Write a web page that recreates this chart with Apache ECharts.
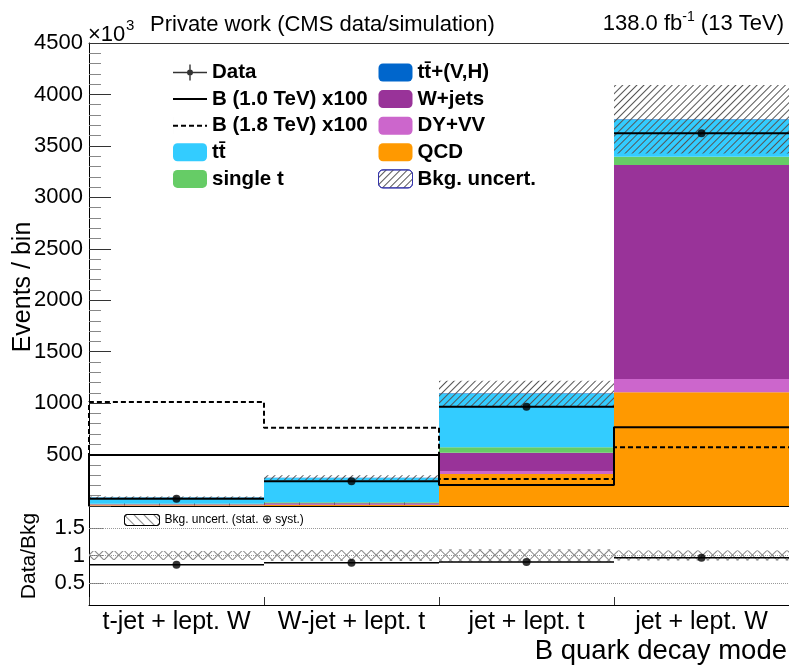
<!DOCTYPE html>
<html><head><meta charset="utf-8">
<script src="https://cdn.jsdelivr.net/npm/echarts@6/dist/echarts.min.js"></script>
<style>html,body{margin:0;padding:0;background:#fff}#c{width:789px;height:665px}</style>
</head><body><div id="c"></div>
<script>
// ---- data (upper panel in units of 10^3 events) ----
const categories = ['t-jet + lept. W', 'W-jet + lept. t', 'jet + lept. t', 'jet + lept. W'];
const qcd     = [8, 10, 311, 1105];
const dyvv    = [3, 5, 29, 129];
const wjets   = [6, 12, 178, 2080];
const singleT = [4, 10, 52, 81];
const ttbar   = [62, 235, 520, 358];
const ttvh    = [2, 3, 5, 5];
const dataObs = [70, 240, 965, 3622];
const bkgUnc  = [8, 25, 123, 333];
const sigB10  = [495, 495, 204, 765];
const sigB18  = [1012, 761, 262, 570];
const ratio    = [0.83, 0.87, 0.88, 0.96];
const ratioUnc = [0.08, 0.10, 0.115, 0.09];
const ratioTicks = [0.5, 1, 1.5];

const FF = '"Liberation Sans", Arial, Helvetica, sans-serif';
const total = qcd.map((_, i) => qcd[i] + dyvv[i] + wjets[i] + singleT[i] + ttbar[i] + ttvh[i]);
const stepData = arr => [[0, 0]].concat(arr.map((v, i) => [i, v]), [[arr.length, arr[arr.length - 1]]]);

function hbar(width) {
  return function (params, api) {
    const i = api.value(0), v = api.value(1);
    const p0 = api.coord([i, v]), p1 = api.coord([i + 1, v]);
    return { type: 'line', shape: { x1: p0[0], y1: p0[1], x2: p1[0], y2: p1[1] },
             style: { stroke: '#000', lineWidth: width } };
  };
}
const stackBar = (name, arr, color) => ({
  name, type: 'bar', stack: 'bkg', xAxisIndex: 0, yAxisIndex: 0, data: arr,
  barCategoryGap: '0%', barGap: '-100%', itemStyle: { color }, z: 2, silent: true
});
const hatchUp = { symbol: 'rect', symbolSize: 1, dashArrayX: [1, 0], dashArrayY: [1, 3.3],
                  rotation: -Math.PI / 4, color: '#555' };
const solidIcon = 'path://M0,8L34,8L34,10L0,10Z';
const dashIcon = 'path://M0,8L5,8L5,10L0,10Z M8,8L13,8L13,10L8,10Z M16,8L21,8L21,10L16,10Z M24,8L29,8L29,10L24,10Z M32,8L34,8L34,10L32,10Z M0,0L0.01,0L0.01,18L0,18Z';

const option = {
  backgroundColor: '#fff',
  animation: false,
  textStyle: { fontFamily: FF },
  grid: [
    { left: 89, top: 43, width: 703, height: 463 },
    { left: 89, top: 506, width: 703, height: 99 }
  ],
  xAxis: [
    { gridIndex: 0, type: 'category', data: categories, show: false },
    { gridIndex: 0, type: 'value', min: 0, max: 4, interval: 1, position: 'bottom',
      axisLine: { show: true, lineStyle: { color: '#000', width: 1 } },
      axisTick: { show: true, inside: true, length: 13, lineStyle: { color: '#333' } },
      minorTick: { show: true, splitNumber: 5, length: 7, lineStyle: { color: '#333' } },
      axisLabel: { show: false }, splitLine: { show: false } },
    { gridIndex: 0, type: 'value', min: 0, max: 4, position: 'top',
      axisLine: { show: true, onZero: false, lineStyle: { color: '#333' } },
      axisTick: { show: false }, axisLabel: { show: false }, splitLine: { show: false } },
    { gridIndex: 1, type: 'category', data: categories,
      axisLine: { show: false }, axisTick: { show: false },
      axisLabel: { show: true, interval: 0, fontSize: 25, color: '#000', margin: 5, fontFamily: FF } },
    { gridIndex: 1, type: 'value', min: 0, max: 4, interval: 1, position: 'bottom',
      axisLine: { show: true, onZero: false, lineStyle: { color: '#000' } },
      axisTick: { show: true, inside: true, length: 8, lineStyle: { color: '#333' } },
      axisLabel: { show: false }, splitLine: { show: false } }
  ],
  yAxis: [
    { gridIndex: 0, type: 'value', min: 0, max: 4500, interval: 500,
      axisLine: { show: true, lineStyle: { color: '#000' } },
      axisTick: { show: true, inside: true, length: 22, lineStyle: { color: '#333' } },
      minorTick: { show: true, splitNumber: 5, length: 12, lineStyle: { color: '#888' } },
      axisLabel: { showMinLabel: false, fontSize: 22, color: '#000', margin: 6, fontFamily: FF,
                   formatter: v => String(v) },
      splitLine: { show: false } },
    { gridIndex: 1, type: 'value', min: 0.1, max: 1.9,
      axisLine: { show: true, lineStyle: { color: '#000' } },
      axisTick: { show: true, inside: true, length: 15, customValues: ratioTicks, lineStyle: { color: '#777' } },
      axisLabel: { customValues: ratioTicks, fontSize: 22, color: '#000', margin: 4, fontFamily: FF,
                   formatter: v => String(v) },
      splitLine: { show: false } }
  ],
  legend: [
    { left: 173, top: 62, orient: 'vertical', itemWidth: 34, itemHeight: 18, itemGap: 5.6, padding: 0,
      selectedMode: false, textStyle: { fontSize: 20.5, fontWeight: 'bold', color: '#000', fontFamily: FF },
      data: [
        { name: 'Data', icon: 'path://M0,8.3L34,8.3L34,9.7L0,9.7Z M16.3,1L17.7,1L17.7,17L16.3,17Z M20,9A3,3 0 1 1 14,9A3,3 0 1 1 20,9Z', itemStyle: { color: '#000' } },
        { name: 'B (1.0 TeV) x100', icon: solidIcon, itemStyle: { color: '#000' } },
        { name: 'B (1.8 TeV) x100', icon: dashIcon, itemStyle: { color: '#000' } },
        'tt\u0304', 'single t'] },
    { left: 378, top: 62, orient: 'vertical', itemWidth: 34, itemHeight: 18, itemGap: 5.6, padding: 0,
      selectedMode: false, textStyle: { fontSize: 20.5, fontWeight: 'bold', color: '#000', fontFamily: FF },
      data: ['tt\u0304+(V,H)', 'W+jets', 'DY+VV', 'QCD',
        { name: 'Bkg. uncert.', itemStyle: { borderColor: '#3333aa', borderWidth: 1 } }] },
    { left: 124, top: 514, orient: 'horizontal', itemWidth: 35, itemHeight: 11, padding: 0,
      selectedMode: false, textStyle: { fontSize: 12, color: '#000', fontFamily: FF },
      data: [{ name: 'Bkg. uncert. (stat. \u2295 syst.)', itemStyle: { borderColor: '#000', borderWidth: 1 } }] }
  ],
  graphic: [
    { type: 'text', x: 88, y: 35, style: { text: '\u00d710', fontSize: 22, fill: '#000', fontFamily: FF, align: 'left', verticalAlign: 'middle' } },
    { type: 'text', x: 126, y: 26, style: { text: '3', fontSize: 15, fill: '#000', fontFamily: FF, align: 'left', verticalAlign: 'middle' } },
    { type: 'text', x: 150, y: 24.5, style: { text: 'Private work (CMS data/simulation)', fontSize: 22, fill: '#000', fontFamily: FF, align: 'left', verticalAlign: 'middle' } },
    { type: 'text', x: 784, y: 24, style: {
        text: '{a|138.0 fb}{s|-1}{a| (13 TeV)}', align: 'right', verticalAlign: 'middle',
        rich: { a: { fontSize: 22, lineHeight: 28, fill: '#000', fontFamily: FF },
                s: { fontSize: 14, verticalAlign: 'top', fill: '#000', fontFamily: FF } } } },
    { type: 'text', x: 23, y: 287, rotation: Math.PI / 2, style: { text: 'Events / bin', fontSize: 25, fill: '#000', fontFamily: FF, align: 'center', verticalAlign: 'middle' } },
    { type: 'text', x: 29, y: 556, rotation: Math.PI / 2, style: { text: 'Data/Bkg', fontSize: 21, fill: '#000', fontFamily: FF, align: 'center', verticalAlign: 'middle' } },
    { type: 'text', x: 787, y: 651, style: { text: 'B quark decay mode', fontSize: 27.5, fill: '#000', fontFamily: FF, align: 'right', verticalAlign: 'middle' } }
  ],
  series: [
    stackBar('QCD', qcd, '#ff9900'),
    stackBar('DY+VV', dyvv, '#cc66cc'),
    stackBar('W+jets', wjets, '#993399'),
    stackBar('single t', singleT, '#66cc66'),
    stackBar('tt\u0304', ttbar, '#33ccff'),
    stackBar('tt\u0304+(V,H)', ttvh, '#0066cc'),
    { name: 'uncBase', type: 'bar', stack: 'unc', xAxisIndex: 0, yAxisIndex: 0,
      data: total.map((t, i) => t - bkgUnc[i]), barCategoryGap: '0%', barGap: '-100%',
      itemStyle: { color: 'rgba(0,0,0,0)' }, z: 3, silent: true },
    { name: 'Bkg. uncert.', type: 'bar', stack: 'unc', xAxisIndex: 0, yAxisIndex: 0,
      data: bkgUnc.map(u => 2 * u), barCategoryGap: '0%', barGap: '-100%',
      itemStyle: { color: 'rgba(0,0,0,0)', decal: hatchUp }, z: 3, silent: true },
    { name: 'B (1.0 TeV) x100', type: 'line', step: 'end', xAxisIndex: 1, yAxisIndex: 0,
      data: stepData(sigB10), symbol: 'none', lineStyle: { color: '#000', width: 2 }, itemStyle: { color: '#000' }, z: 5, silent: true },
    { name: 'B (1.8 TeV) x100', type: 'line', step: 'end', xAxisIndex: 1, yAxisIndex: 0,
      data: stepData(sigB18), symbol: 'none', lineStyle: { color: '#000', width: 2, type: [5, 3] }, itemStyle: { color: '#000' }, z: 5, silent: true },
    { name: 'dataBars', type: 'custom', xAxisIndex: 1, yAxisIndex: 0, renderItem: hbar(2),
      data: dataObs.map((v, i) => [i, v]), z: 6, silent: true },
    { name: 'Data', type: 'scatter', xAxisIndex: 1, yAxisIndex: 0, symbol: 'circle', symbolSize: 8,
      data: dataObs.map((v, i) => [i + 0.5, v]), itemStyle: { color: '#000' }, z: 7, silent: true },
    // ratio panel
    { name: 'rBaseA', type: 'bar', stack: 'ra', xAxisIndex: 3, yAxisIndex: 1,
      data: ratio.map((_, i) => 1 - ratioUnc[i]), barCategoryGap: '0%', barGap: '-100%',
      itemStyle: { color: 'rgba(0,0,0,0)' }, silent: true, z: 3 },
    { name: 'Bkg. uncert. (stat. \u2295 syst.)', type: 'bar', stack: 'ra', xAxisIndex: 3, yAxisIndex: 1,
      data: ratioUnc.map(u => 2 * u), barCategoryGap: '0%', barGap: '-100%',
      itemStyle: { color: 'rgba(0,0,0,0)', decal: { symbol: 'rect', symbolSize: 1, dashArrayX: [1, 0], dashArrayY: [1, 6], rotation: Math.PI / 4, color: '#888' } },
      silent: true, z: 3 },
    { name: 'rBaseB', type: 'bar', stack: 'rb', xAxisIndex: 3, yAxisIndex: 1,
      data: ratio.map((_, i) => 1 - ratioUnc[i]), barCategoryGap: '0%', barGap: '-100%',
      itemStyle: { color: 'rgba(0,0,0,0)' }, silent: true, z: 3 },
    { name: 'rHatchB', type: 'bar', stack: 'rb', xAxisIndex: 3, yAxisIndex: 1,
      data: ratioUnc.map(u => 2 * u), barCategoryGap: '0%', barGap: '-100%',
      itemStyle: { color: 'rgba(0,0,0,0)', decal: { symbol: 'rect', symbolSize: 1, dashArrayX: [1, 0], dashArrayY: [1, 6], rotation: -Math.PI / 4, color: '#888' } },
      silent: true, z: 3 },
    { name: 'ratioBars', type: 'custom', xAxisIndex: 4, yAxisIndex: 1, renderItem: hbar(1.5),
      data: ratio.map((v, i) => [i, v]), z: 6, silent: true },
    { name: 'ratioPts', type: 'scatter', xAxisIndex: 4, yAxisIndex: 1, symbol: 'circle', symbolSize: 8,
      data: ratio.map((v, i) => [i + 0.5, v]), itemStyle: { color: '#000' }, z: 7, silent: true,
      markLine: { silent: true, symbol: ['none', 'none'], label: { show: false },
        lineStyle: { type: 'dotted', color: '#999', width: 1 },
        data: ratioTicks.map(v => ({ yAxis: v })) } }
  ]
};
const chart = echarts.init(document.getElementById('c'));
chart.setOption(option);
</script></body></html>
